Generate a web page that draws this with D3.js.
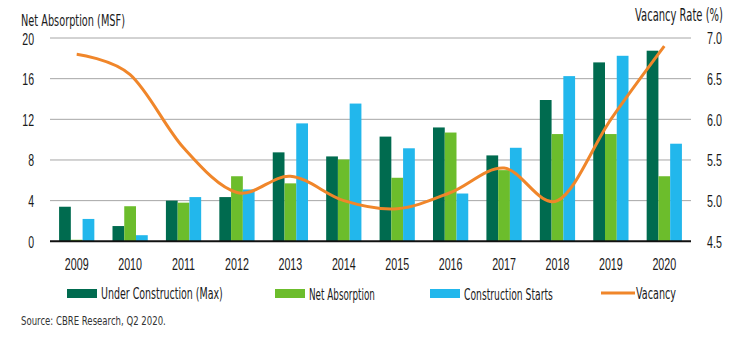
<!DOCTYPE html>
<html>
<head>
<meta charset="utf-8">
<script src="https://cdn.jsdelivr.net/npm/d3@7"></script>
<style>
  body { margin: 0; background: #fff; }
  svg { display: block; font-family: "DejaVu Sans", sans-serif; }
</style>
</head>
<body>
<svg id="chart" width="753" height="339"></svg>
<script>
const years = ["2009","2010","2011","2012","2013","2014","2015","2016","2017","2018","2019","2020"];
const underConstruction = [3.4, 1.5, 4.0, 4.35, 8.75, 8.35, 10.3, 11.2, 8.45, 13.9, 17.6, 18.75];
const netAbsorption = [0.15, 3.45, 3.8, 6.4, 5.7, 8.05, 6.25, 10.7, 7.0, 10.55, 10.55, 6.4];
const constructionStarts = [2.2, 0.6, 4.35, 5.1, 11.6, 13.55, 9.15, 4.7, 9.2, 16.25, 18.25, 9.6];
const vacancy = [6.8, 6.55, 5.65, 5.1, 5.3, 5.0, 4.9, 5.1, 5.4, 5.0, 6.0, 6.9];
const leftTicks = [0, 4, 8, 12, 16, 20];
const rightTicks = [4.5, 5.0, 5.5, 6.0, 6.5, 7.0];

const series = [
  { name: "Under Construction (Max)", values: underConstruction, color: "#006b4f" },
  { name: "Net Absorption", values: netAbsorption, color: "#6cbd2c" },
  { name: "Construction Starts", values: constructionStarts, color: "#22b7ec" }
];
const lineColor = "#f0862a";

const svg = d3.select("#chart");
const margin = { left: 50, right: 62, top: 38, bottom: 98 };
const width = 753, height = 339;

// the original uses a condensed face, so squeeze text horizontally
function condense(sel, k) {
  sel.each(function () {
    const t = d3.select(this);
    const x0 = +t.attr("x") || 0, y0 = +t.attr("y") || 0;
    t.attr("x", 0).attr("y", 0).attr("transform", `translate(${x0},${y0}) scale(${k},1)`);
  });
}
function fitWidth(sel, w) {
  sel.each(function () {
    const k = w / this.getComputedTextLength();
    condense(d3.select(this), k);
  });
}

const x = d3.scaleBand().domain(years).range([margin.left, width - margin.right]).paddingInner(0.34).paddingOuter(0.17);
const xs = d3.scaleBand().domain(series.map(s => s.name)).range([0, x.bandwidth()]);
const yL = d3.scaleLinear().domain([0, 20]).range([height - margin.bottom + 0.3, margin.top]);
const yR = d3.scaleLinear().domain([4.5, 7.0]).range([height - margin.bottom + 0.3, margin.top]);

// grid lines
svg.append("g")
  .selectAll("line")
  .data(leftTicks.filter(d => d > 0))
  .join("line")
  .attr("x1", margin.left).attr("x2", width - margin.right)
  .attr("y1", d => yL(d)).attr("y2", d => yL(d))
  .attr("stroke", "#a6a6a6").attr("stroke-width", 1);

// left axis
const leftAxis = svg.append("g")
  .attr("transform", `translate(${margin.left - 16},0)`)
  .call(d3.axisLeft(yL).tickValues(leftTicks).tickSize(0).tickPadding(0));
leftAxis.select(".domain").remove();
leftAxis.selectAll("text").attr("font-size", 17).attr("fill", "#1a1a1a").attr("font-family", null)
  .attr("dy", null).attr("dominant-baseline", "central");
condense(leftAxis.selectAll("text"), 0.62);

// right axis
const rightAxis = svg.append("g")
  .attr("transform", `translate(${width - margin.right + 16},0)`)
  .call(d3.axisRight(yR).tickValues(rightTicks).tickFormat(d3.format(".1f")).tickSize(0).tickPadding(0));
rightAxis.select(".domain").remove();
rightAxis.selectAll("text").attr("font-size", 17).attr("fill", "#1a1a1a").attr("font-family", null)
  .attr("dy", null).attr("dominant-baseline", "central");
condense(rightAxis.selectAll("text"), 0.63);

// bars
const groups = svg.append("g")
  .selectAll("g")
  .data(years)
  .join("g")
  .attr("transform", d => `translate(${x(d)},0)`);

groups.selectAll("rect")
  .data((d, i) => series.map(s => ({ name: s.name, color: s.color, value: s.values[i] })))
  .join("rect")
  .attr("x", d => xs(d.name))
  .attr("width", xs.bandwidth())
  .attr("y", d => yL(d.value))
  .attr("height", d => yL(0) - yL(d.value))
  .attr("fill", d => d.color);

// baseline
svg.append("line")
  .attr("x1", margin.left).attr("x2", width - margin.right)
  .attr("y1", yL(0)).attr("y2", yL(0))
  .attr("stroke", "#111").attr("stroke-width", 2);

// x axis labels
const xAxis = svg.append("g")
  .attr("transform", `translate(0,${yL(0) + 23})`)
  .call(d3.axisBottom(x).tickSize(0).tickPadding(0));
xAxis.select(".domain").remove();
xAxis.selectAll("text").attr("font-size", 17).attr("fill", "#1a1a1a").attr("font-family", null)
  .attr("dy", null).attr("dominant-baseline", "central");
condense(xAxis.selectAll("text"), 0.63);

// vacancy line
const line = d3.line()
  .x((d, i) => x(years[i]) + x.bandwidth() / 2)
  .y(d => yR(d))
  .curve(d3.curveCardinal.tension(0));

svg.append("path")
  .datum(vacancy)
  .attr("d", line)
  .attr("fill", "none")
  .attr("stroke", lineColor)
  .attr("stroke-width", 3);

// axis titles
svg.append("text").attr("x", 21).attr("y", 26)
  .attr("font-size", 16.5).attr("fill", "#1a1a1a")
  .text("Net Absorption (MSF)")
  .call(fitWidth, 104);
svg.append("text").attr("x", 635).attr("y", 21)
  .attr("font-size", 17).attr("fill", "#1a1a1a")
  .text("Vacancy Rate (%)")
  .call(fitWidth, 88);

// legend
const legendY = 293;
const legendItems = [
  { name: series[0].name, color: series[0].color, x: 67, type: "rect", w: 122 },
  { name: series[1].name, color: series[1].color, x: 275, type: "rect", w: 66 },
  { name: series[2].name, color: series[2].color, x: 430, type: "rect", w: 89 },
  { name: "Vacancy", color: lineColor, x: 601, type: "line", w: 40 }
];
const legend = svg.append("g")
  .selectAll("g")
  .data(legendItems)
  .join("g")
  .attr("transform", d => `translate(${d.x},${legendY})`);

legend.filter(d => d.type === "rect").append("rect")
  .attr("x", 0).attr("y", -4).attr("width", 30).attr("height", 9)
  .attr("fill", d => d.color);
legend.filter(d => d.type === "line").append("line")
  .attr("x1", 0).attr("x2", 34).attr("y1", 0).attr("y2", 0)
  .attr("stroke", d => d.color).attr("stroke-width", 3);
legend.append("text")
  .attr("x", d => d.type === "line" ? 35 : 34)
  .attr("y", 1)
  .attr("dominant-baseline", "central")
  .attr("font-size", 16).attr("fill", "#1a1a1a")
  .text(d => d.name)
  .each(function (d) { fitWidth(d3.select(this), d.w); });

// source
svg.append("text").attr("x", 21).attr("y", 325)
  .attr("font-size", 12).attr("fill", "#333")
  .text("Source: CBRE Research, Q2 2020.")
  .call(fitWidth, 145);
</script>
</body>
</html>
